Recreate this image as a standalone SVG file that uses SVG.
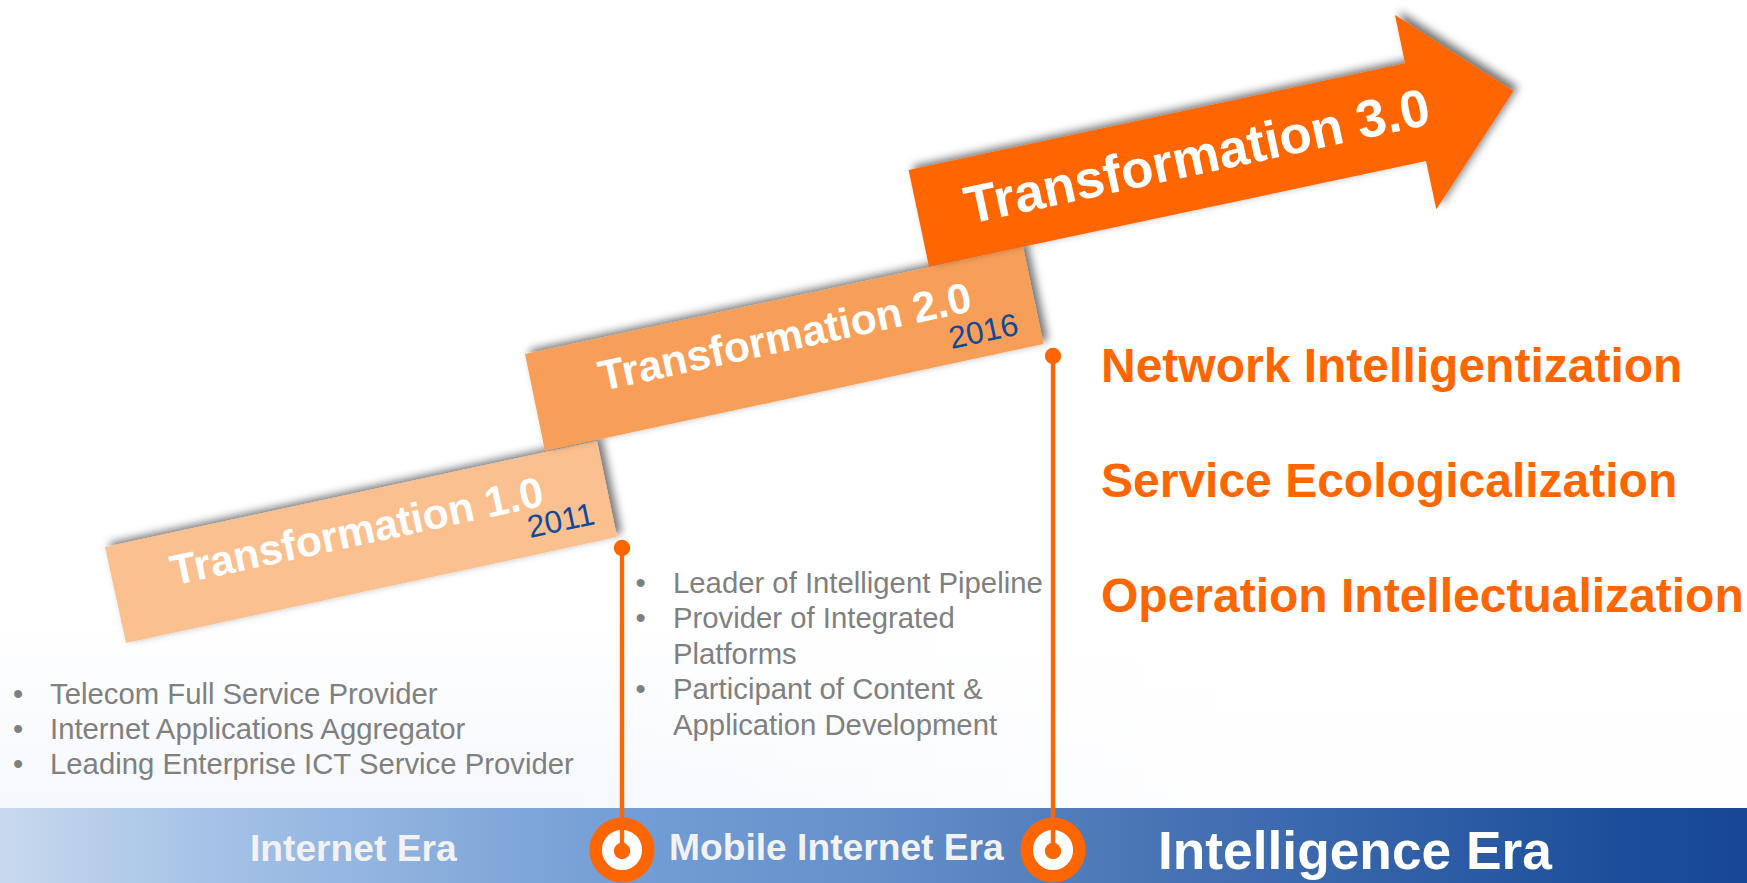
<svg xmlns="http://www.w3.org/2000/svg" width="1747" height="883" viewBox="0 0 1747 883">
<style>
text{font-family:"Liberation Sans",Arial,sans-serif}
.t{font-weight:700;fill:#fff}
.y{font-size:31.5px;fill:#0f4a9a}
.li{font-size:29.3px;fill:#808080}
.goal{font-size:48px;font-weight:700;fill:#ff6600}
.era{font-weight:700;fill:#f2f2f2;font-size:37.2px}
.ring{fill:#fff;stroke:#ff6600;stroke-width:12.5}
.conn{stroke:#ff6600;stroke-width:4.4;fill:none;marker-start:url(#dot);marker-end:url(#dot)}
</style>
<defs>
<linearGradient id="bg" x1="0" y1="0" x2="0" y2="1"><stop offset="0" stop-color="#fff"/><stop offset="1" stop-color="#f5f8fd"/></linearGradient>
<linearGradient id="fade" x1="0" y1="0" x2="1" y2="0"><stop offset=".3" stop-color="#fff" stop-opacity="0"/><stop offset=".7" stop-color="#fff" stop-opacity=".85"/></linearGradient>
<linearGradient id="band" x1="0" y1="0" x2="1" y2="0"><stop offset="0" stop-color="#c8d9ee"/><stop offset=".115" stop-color="#a6c3e7"/><stop offset=".36" stop-color="#739dd4"/><stop offset=".5" stop-color="#6690ca"/><stop offset=".65" stop-color="#4a76b6"/><stop offset=".82" stop-color="#2e5ea6"/><stop offset=".93" stop-color="#1b4e9a"/><stop offset="1" stop-color="#174795"/></linearGradient>
<filter id="sh" x="-10%" y="-20%" width="120%" height="140%"><feDropShadow dx="4.5" dy="-4" stdDeviation="4.2" flood-color="#000" flood-opacity=".55"/></filter>
<marker id="dot" markerUnits="userSpaceOnUse" markerWidth="18" markerHeight="18" refX="9" refY="9"><circle cx="9" cy="9" r="8.2" fill="#ff6600"/></marker>
</defs>
<rect width="1747" height="883" fill="#fff"/>
<rect y="620" width="1747" height="188" fill="url(#bg)"/>
<rect y="620" width="1747" height="188" fill="url(#fade)"/>
<g id="era-band">
<rect y="808" width="1747" height="75" fill="url(#band)"/>
<text class="era" x="250" y="861">Internet Era</text>
<text class="era" x="669" y="860">Mobile Internet Era</text>
<text x="1158" y="868.5" font-size="53.3" font-weight="700" fill="#fff">Intelligence Era</text>
</g>
<g id="marker-2011"><circle class="ring" cx="622" cy="850" r="26.3"/></g>
<g id="marker-2016"><circle class="ring" cx="1053" cy="850" r="26.3"/></g>
<g id="transformation-1">
<polygon points="105,547 597,441 617,537 126,643" fill="#fbc08f" filter="url(#sh)"/>
<text class="t" font-size="42.5" transform="translate(174,585.5) rotate(-12.2)">Transformation 1.0</text>
<text class="y" transform="translate(530,538) rotate(-12.2)">2011</text>
</g>
<g id="transformation-2">
<polygon points="525,354 1023,247 1043.5,344 545,451" fill="#f79f58" filter="url(#sh)"/>
<text class="t" font-size="42.5" transform="translate(602,391) rotate(-12.2)">Transformation 2.0</text>
<text class="y" transform="translate(951.5,349) rotate(-12.2)">2016</text>
</g>
<g id="transformation-3">
<polygon points="908.6,170 1405,63.3 1395,15 1513.5,91 1436.3,209.3 1426,161 929,266.7" fill="#ff6600" filter="url(#sh)"/>
<text class="t" font-size="53" transform="translate(969,224) rotate(-12.2)">Transformation 3.0</text>
</g>
<g id="list-1">
<text class="li" x="13" y="704">•</text><text class="li" x="50" y="704">Telecom Full Service Provider</text>
<text class="li" x="13" y="739">•</text><text class="li" x="50" y="739">Internet Applications Aggregator</text>
<text class="li" x="13" y="773.5">•</text><text class="li" x="50" y="773.5">Leading Enterprise ICT Service Provider</text>
</g>
<g id="list-2">
<text class="li" x="635.5" y="593">•</text><text class="li" x="673" y="593">Leader of Intelligent Pipeline</text>
<text class="li" x="635.5" y="628">•</text><text class="li" x="673" y="628">Provider of Integrated</text>
<text class="li" x="673" y="664">Platforms</text>
<text class="li" x="635.5" y="699">•</text><text class="li" x="673" y="699">Participant of Content &amp;</text>
<text class="li" x="673" y="734.5">Application Development</text>
</g>
<g id="list-3">
<text class="goal" x="1101" y="382">Network Intelligentization</text>
<text class="goal" x="1101" y="497">Service Ecologicalization</text>
<text class="goal" x="1101" y="612">Operation Intellectualization</text>
</g>
<g id="connectors">
<line class="conn" x1="622" y1="548" x2="622" y2="851"/>
<line class="conn" x1="1053" y1="356" x2="1053" y2="851"/>
</g>
</svg>
